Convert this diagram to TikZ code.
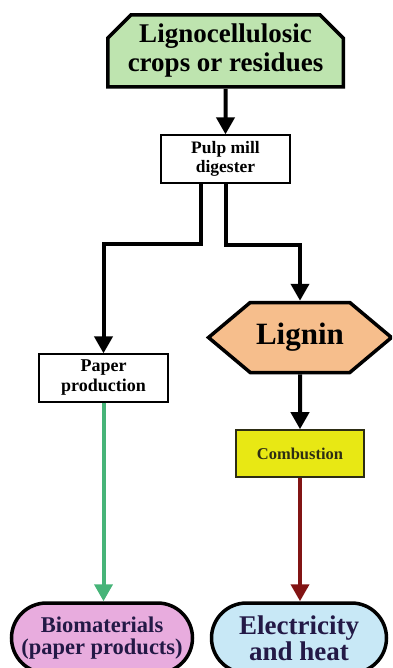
\documentclass[tikz,border=0pt]{standalone}
\usepackage{fontspec}
\setmainfont{Liberation Serif}
\usetikzlibrary{shapes.misc,shapes.symbols,arrows.meta}
\definecolor{cropgreen}{RGB}{190,228,175}
\definecolor{ligninorange}{RGB}{246,190,140}
\definecolor{combyellow}{RGB}{232,232,20}
\definecolor{biopink}{RGB}{232,172,222}
\definecolor{heatblue}{RGB}{200,232,246}
\definecolor{flowgreen}{RGB}{70,180,120}
\definecolor{flowred}{RGB}{130,20,20}
\definecolor{inkblue}{RGB}{35,25,70}
\definecolor{inkolive}{RGB}{45,45,20}

\begin{document}
\begin{tikzpicture}[x=1pt,y=-1pt,
    box/.style={rectangle, draw, line width=1.3pt, fill=white, align=center,
      inner sep=0pt, minimum width=129pt, minimum height=48pt,
      font=\bfseries\fontsize{17.5}{19}\selectfont},
    pill/.style={rounded rectangle, draw, line width=3.5pt, align=center,
      inner sep=0pt, minimum height=70pt, text=inkblue},
    flow/.style={line width=4pt, -{Triangle[width=18pt,length=17pt]}}]
  \useasboundingbox (0,0) rectangle (392,668);
  \clip (0,0) rectangle (392,668);
  \node[chamfered rectangle, chamfered rectangle corners={north west,north east},
    chamfered rectangle xsep=20pt, draw, line width=3.5pt, fill=cropgreen,
    minimum width=232pt, minimum height=72pt, inner sep=0pt, align=center,
    font=\bfseries\fontsize{27}{29}\selectfont] (crops) at (225.5,51)
    {Lignocellulosic\\crops or residues};
  \node[box] (pulp) at (225.5,159) {Pulp mill\\digester};
  \node[box, font=\bfseries\fontsize{18}{20}\selectfont] (paper) at (103.5,378) {Paper\\production};
  \node[signal, signal to=west and east, signal pointer angle=80, draw,
    line width=3.5pt, fill=ligninorange, minimum width=183pt, minimum height=70pt,
    inner sep=0pt, font=\bfseries\fontsize{31}{31}\selectfont] (lignin) at (300,337.5) {Lignin};
  \node[box, minimum width=128pt, minimum height=47pt, fill=combyellow,
    draw=inkolive, line width=1.6pt, text=inkolive,
    font=\bfseries\fontsize{16.5}{19}\selectfont] (comb) at (300,453.5) {Combustion};
  \node[pill, fill=biopink, minimum width=181pt,
    font=\bfseries\fontsize{22.5}{22.5}\selectfont] (bio) at (102,638) {Biomaterials\\(paper products)};
  \node[pill, fill=heatblue, minimum width=175pt,
    font=\bfseries\fontsize{27}{26}\selectfont] (heat) at (299,638) {Electricity\\and heat};

  \draw[flow] (crops) -- (pulp);
  \draw[flow] ([xshift=-24.5pt]pulp.south) -- ++(0,60) -| (paper.north);
  \draw[flow] (pulp.south) -- ++(0,61) -| (lignin.north);
  \draw[flow] (lignin) -- (comb);
  \draw[flow, flowgreen] (paper) -- (paper.south |- bio.north);
  \draw[flow, flowred] (comb) -- (comb.south |- heat.north);
\end{tikzpicture}
\end{document}
